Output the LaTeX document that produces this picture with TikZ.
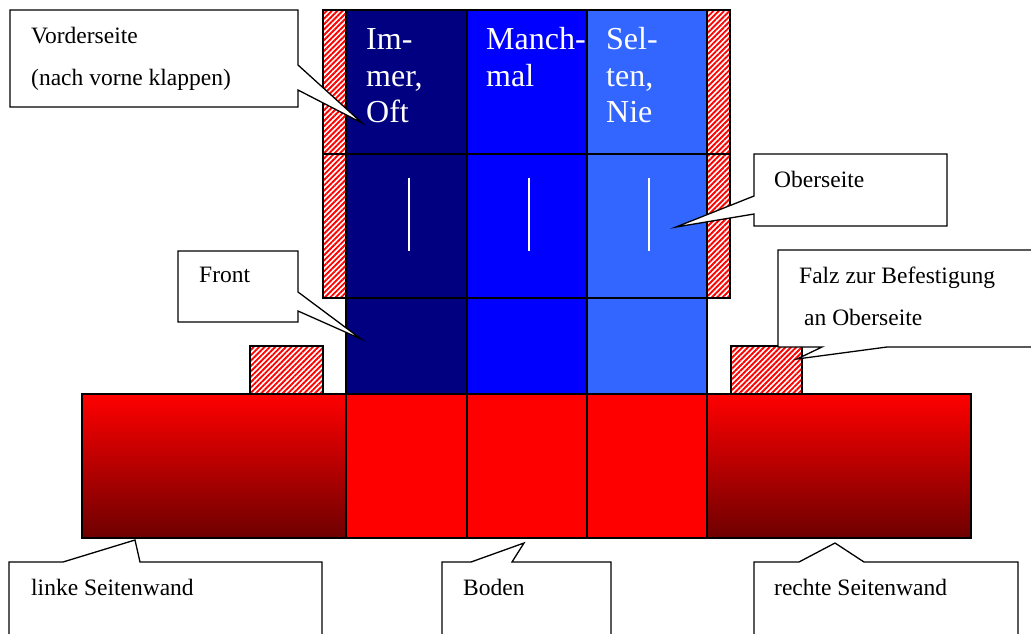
\documentclass[tikz,border=0pt]{standalone}
\usepackage{fontspec}
\setmainfont{Liberation Serif}
\usetikzlibrary{patterns.meta}
\definecolor{navyc}{RGB}{0,0,128}
\definecolor{bluec}{RGB}{0,0,255}
\definecolor{lightc}{RGB}{51,102,255}
\definecolor{darkredc}{RGB}{110,0,0}
\begin{document}
\begin{tikzpicture}[x=1pt,y=-1pt,
  edge/.style={draw=black,line width=1.3pt},
  hatch/.style={pattern={Lines[angle=45,distance=3.8pt,line width=1.9pt]},pattern color=red,draw=black,line width=1.3pt},
  callout/.style={fill=white,draw=black,line width=1.3pt,line join=miter},
  lbl/.style={anchor=base west,inner sep=0pt,font=\fontsize{23.5}{28}\selectfont},
  coltxt/.style={anchor=base west,inner sep=0pt,text=white,font=\fontsize{32}{36}\selectfont},
  crease/.style={draw=white,line width=1.4pt}
]
\useasboundingbox (0,0) rectangle (1031,633);
\clip (0,0) rectangle (1031,633);
\fill[white] (0,0) rectangle (1031,633);

% blue columns (three rows)
\foreach \ya/\yb in {10/154,154/298,298/394}{
  \fill[navyc] (346,\ya) rectangle (467,\yb);
  \fill[bluec] (467,\ya) rectangle (587,\yb);
  \fill[lightc] (587,\ya) rectangle (707,\yb);
  \draw[edge] (346,\ya) rectangle (467,\yb);
  \draw[edge] (467,\ya) rectangle (587,\yb);
  \draw[edge] (587,\ya) rectangle (707,\yb);
}

% red base
\shade[top color=red,bottom color=darkredc] (82,394) rectangle (346,538);
\fill[red] (346,394) rectangle (707,538);
\shade[top color=red,bottom color=darkredc] (707,394) rectangle (971,538);
\draw[edge] (82,394) rectangle (346,538);
\draw[edge] (346,394) rectangle (467,538);
\draw[edge] (467,394) rectangle (587,538);
\draw[edge] (587,394) rectangle (707,538);
\draw[edge] (707,394) rectangle (971,538);

% hatched side strips
\fill[white] (323,10) rectangle (346,298);
\fill[white] (707,10) rectangle (730,298);
\draw[hatch] (323,10) rectangle (346,154);
\draw[hatch] (323,154) rectangle (346,298);
\draw[hatch] (707,10) rectangle (730,154);
\draw[hatch] (707,154) rectangle (730,298);

% hatched tabs
\draw[hatch] (250,346) rectangle (323,394);
\draw[hatch] (731,346) rectangle (802,394);

% white crease lines
\draw[crease] (409,178) -- (409,251);
\draw[crease] (529,178) -- (529,251);
\draw[crease] (649,178) -- (649,251);

% column texts
\node[coltxt] (c1a) at (366,49) {Im-};
\node[coltxt] (c1b) at (366,86) {mer,};
\node[coltxt] (c1c) at (366,122) {Oft};
\node[coltxt] (c2a) at (486,49) {Manch-};
\node[coltxt] (c2b) at (486,86) {mal};
\node[coltxt] (c3a) at (606,49) {Sel-};
\node[coltxt] (c3b) at (606,86) {ten,};
\node[coltxt] (c3c) at (606,122) {Nie};

% callouts
\draw[callout] (10,10) -- (298,10) -- (298,65) -- (362,123) -- (298,90) -- (298,107) -- (10,107) -- cycle;
\node[lbl] (vorder1) at (31,43) {Vorderseite};
\node[lbl] (vorder2) at (31,85) {(nach vorne klappen)};

\draw[callout] (754,154) -- (947,154) -- (947,226) -- (754,226) -- (754,214) -- (676,227) -- (754,196) -- cycle;
\node[lbl] (ober) at (774,187) {Oberseite};

\draw[callout] (178,251) -- (298,251) -- (298,292) -- (361,339) -- (298,311) -- (298,322) -- (178,322) -- cycle;
\node[lbl] (front) at (199,282) {Front};

\draw[callout] (778,250) -- (1040,250) -- (1040,347) -- (887,347) -- (797,359) -- (822,347) -- (778,347) -- cycle;
\node[lbl] (falz1) at (799,283) {Falz zur Befestigung};
\node[lbl] (falz2) at (804,325) {an Oberseite};

\draw[callout] (9,562) -- (63,562) -- (135,540) -- (140,562) -- (322,562) -- (322,645) -- (9,645) -- cycle;
\node[lbl] (links) at (31,595) {linke Seitenwand};

\draw[callout] (442,562) -- (471,562) -- (524,543) -- (512,562) -- (611,562) -- (611,645) -- (442,645) -- cycle;
\node[lbl] (boden) at (463,595) {Boden};

\draw[callout] (754,562) -- (799,562) -- (835,543) -- (864,562) -- (1018,562) -- (1018,645) -- (754,645) -- cycle;
\node[lbl] (rechts) at (774,595) {rechte Seitenwand};
\end{tikzpicture}
\end{document}
